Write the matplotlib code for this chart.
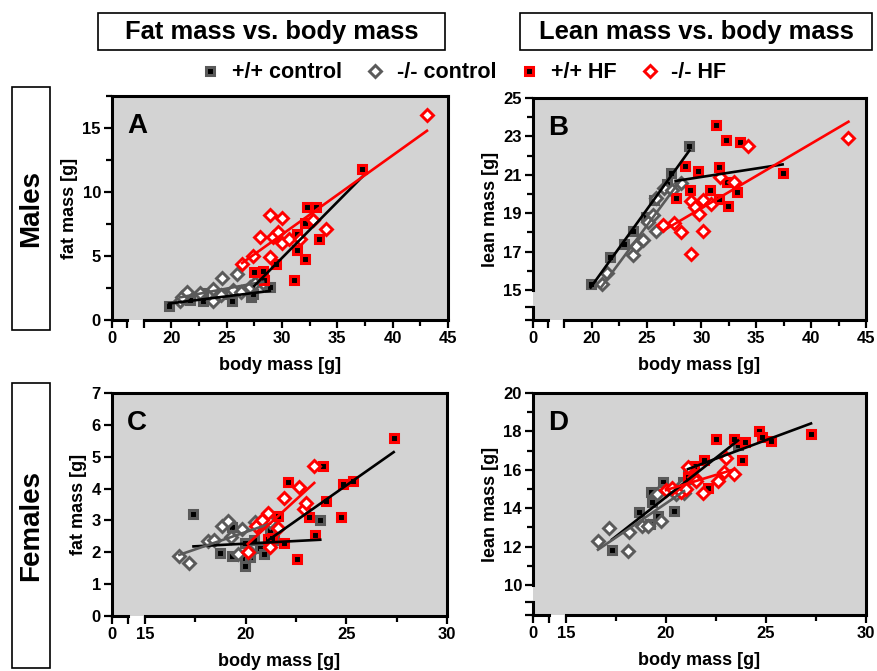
import numpy as np
import matplotlib
matplotlib.use("Agg")
import matplotlib.pyplot as plt
from matplotlib.lines import Line2D
from matplotlib.patches import Rectangle

# ---- data ------------------------------------------------------------------
# Males, fat mass (panel A)
a_wt_ctrl_x = [19.8, 21.7, 22.9, 22.9, 24.6, 25.5, 27.2, 27.4, 28.9]
a_wt_ctrl_y = [1.1, 1.6, 1.5, 2.1, 2.0, 1.5, 1.8, 2.0, 2.6]
a_ko_ctrl_x = [20.8, 21.0, 21.4, 22.6, 23.8, 23.8, 24.5, 24.6, 25.6, 25.9, 26.3, 27.1, 27.6, 28.3]
a_ko_ctrl_y = [1.5, 1.8, 2.2, 2.1, 1.5, 2.4, 1.95, 3.25, 2.35, 3.6, 2.2, 2.6, 2.9, 2.9]
a_wt_hf_x = [27.5, 28.3, 28.4, 29.5, 31.1, 31.4, 31.4, 32.1, 32.1, 32.3, 33.05, 33.35, 37.25]
a_wt_hf_y = [3.75, 3.85, 3.1, 4.4, 3.1, 5.5, 6.75, 4.75, 7.6, 8.8, 8.8, 6.3, 11.8]
a_ko_hf_x = [26.4, 27.35, 28.0, 28.9, 28.9, 29.2, 29.6, 30.0, 30.0, 30.65, 31.6, 32.8, 34.0, 43.1]
a_ko_hf_y = [4.4, 5.0, 6.45, 8.2, 4.95, 6.5, 6.9, 8.0, 6.0, 6.3, 6.3, 7.85, 7.1, 16.0]

# Males, lean mass (panel B)
b_wt_ctrl_x = [19.9, 21.7, 22.9, 23.75, 24.95, 25.7, 26.9, 27.2, 28.9]
b_wt_ctrl_y = [15.3, 16.7, 17.4, 18.1, 18.8, 19.7, 20.5, 21.1, 22.5]
b_ko_ctrl_x = [20.9, 21.35, 23.75, 24.05, 24.65, 25.1, 25.55, 25.85, 25.85, 26.6, 27.3, 28.15]
b_ko_ctrl_y = [15.3, 15.9, 16.8, 17.3, 17.6, 18.55, 18.9, 18.1, 19.8, 20.3, 20.2, 20.55]
b_wt_hf_x = [27.65, 28.5, 29.0, 29.65, 30.75, 31.3, 31.6, 31.6, 32.25, 32.3, 32.45, 33.2, 33.5, 37.4]
b_wt_hf_y = [19.8, 21.45, 20.2, 21.2, 20.2, 23.6, 21.4, 19.75, 22.8, 20.6, 19.4, 20.1, 22.7, 21.1]
b_ko_hf_x = [26.5, 27.5, 28.15, 29.05, 29.05, 29.45, 29.75, 30.1, 30.1, 30.9, 31.65, 32.95, 34.2, 43.4]
b_ko_hf_y = [18.4, 18.5, 18.0, 16.9, 19.65, 19.3, 18.95, 19.7, 18.1, 19.5, 20.9, 20.65, 22.5, 22.9]

# Females, fat mass (panel C)
c_wt_ctrl_x = [17.4, 18.7, 19.3, 19.3, 19.95, 19.95, 19.95, 20.2, 20.4, 20.7, 20.9, 21.2, 21.4, 23.7]
c_wt_ctrl_y = [3.2, 1.97, 2.78, 1.88, 1.78, 1.57, 2.28, 1.85, 2.4, 2.14, 1.95, 2.7, 2.4, 3.0]
c_ko_ctrl_x = [16.7, 17.2, 18.1, 18.4, 18.8, 19.1, 19.25, 19.6, 19.8, 20.2, 20.45, 20.6, 21.2]
c_ko_ctrl_y = [1.88, 1.65, 2.36, 2.4, 2.82, 2.99, 2.47, 1.96, 2.74, 2.0, 2.96, 2.8, 2.95]
c_wt_hf_x = [21.1, 21.3, 21.6, 21.9, 22.1, 22.55, 23.15, 23.45, 23.85, 24.0, 24.75, 24.85, 25.35, 27.35]
c_wt_hf_y = [2.43, 2.45, 3.15, 2.28, 4.22, 1.78, 3.1, 2.55, 4.7, 3.6, 3.1, 4.15, 4.25, 5.6]
c_ko_hf_x = [20.1, 20.5, 20.8, 21.1, 21.2, 21.6, 21.9, 22.65, 22.9, 23.0, 23.4]
c_ko_hf_y = [2.02, 2.83, 3.0, 3.22, 2.18, 2.75, 3.69, 4.05, 3.35, 3.55, 4.72]

# Females, lean mass (panel D)
d_wt_ctrl_x = [17.3, 18.65, 19.2, 19.25, 19.3, 19.6, 19.85, 20.0, 20.4, 20.85, 21.1, 21.2, 23.6]
d_wt_ctrl_y = [11.8, 13.8, 13.2, 14.85, 14.35, 13.6, 15.36, 15.0, 13.88, 15.39, 15.75, 15.5, 17.3]
d_ko_ctrl_x = [16.6, 17.15, 18.1, 18.15, 18.8, 19.1, 19.55, 19.75, 20.3, 20.5, 20.8, 20.9]
d_ko_ctrl_y = [12.3, 12.96, 11.77, 12.75, 13.05, 13.1, 14.75, 13.35, 15.0, 14.73, 15.2, 14.78]
d_wt_hf_x = [21.1, 21.4, 21.9, 22.1, 22.5, 23.4, 23.8, 23.95, 24.65, 24.8, 25.25, 27.25]
d_wt_hf_y = [15.65, 16.2, 16.5, 15.05, 17.62, 17.62, 16.5, 17.45, 18.0, 17.7, 17.5, 17.85]
d_ko_hf_x = [20.0, 20.3, 20.75, 21.0, 21.1, 21.4, 21.5, 21.85, 22.6, 22.9, 23.0, 23.4]
d_ko_hf_y = [14.95, 15.05, 14.87, 15.0, 16.17, 15.65, 15.4, 14.8, 15.4, 15.9, 16.6, 15.8]

group_labels = ["+/+ control", "-/- control", "+/+ HF", "-/- HF"]
header_labels = ["Fat mass vs. body mass", "Lean mass vs. body mass"]
row_labels = ["Males", "Females"]

# ---- styling ---------------------------------------------------------------
plt.rcParams["font.family"] = ["Liberation Sans", "DejaVu Sans"]
plt.rcParams["font.weight"] = "bold"

GRAY = "#5a5a5a"
RED = "#ff0000"
BG = "#d3d3d3"

sq = dict(marker="s", ms=5.4, mew=2.2, mfc="black", ls="none")
dm = dict(marker="D", ms=6.4, mew=2.1, mfc="white", ls="none")
styles = [dict(sq, mec=GRAY), dict(dm, mec=GRAY), dict(sq, mec=RED), dict(dm, mec=RED)]
fit_colors = ["black", GRAY, "black", RED]


def broken(lo_val, hi_val, lo_len, gap):
    # piecewise-linear axis: short stub [0, lo_val], gap, then identity from hi_val
    u_lo = hi_val - gap
    k = lo_len / lo_val

    def fwd(v):
        v = np.asarray(v, float)
        return np.where(v >= hi_val, v,
                        np.where(v <= lo_val, u_lo - (lo_val - v) * k,
                                 u_lo + (v - lo_val) * gap / (hi_val - lo_val)))

    def inv(u):
        u = np.asarray(u, float)
        return np.where(u >= hi_val, u,
                        np.where(u <= u_lo, lo_val - (u_lo - u) / k,
                                 lo_val + (u - u_lo) * (hi_val - lo_val) / gap))
    return fwd, inv


def panel(ax, groups, xcfg, ycfg, ylabel, letter):
    ax.set_facecolor(BG)
    for (x, y), st in zip(groups, styles):
        ax.plot(x, y, **st, zorder=3)
    for (x, y), c in zip(groups, fit_colors):
        m, b = np.polyfit(x, y, 1)
        xs = np.array([min(x), max(x)])
        ax.plot(xs, m * xs + b, color=c, lw=1.9, zorder=4)

    # x axis with a break
    xmax, xhi, xlo_len, xgap, xmaj, xmin_ = xcfg
    ax.set_xscale("function", functions=broken(1, xhi, xlo_len, xgap))
    ax.set_xlim(0, xmax)
    ax.set_xticks([0, 1] + xmaj, ["0", ""] + [f"{v:g}" if v != 17.5 else "" for v in xmaj])
    ax.set_xticks(xmin_, minor=True)
    ax.spines["bottom"].set_visible(False)
    tr = ax.get_xaxis_transform()
    for seg in ([0, 1], [xhi, xmax]):
        ax.plot(seg, [0, 0], transform=tr, color="black", lw=2.2, clip_on=False,
                solid_capstyle="projecting", zorder=5)

    ymax, ybreak, ymaj, ymin_ = ycfg
    if ybreak is not None:
        yhi, ylo_len, ygap = ybreak
        ax.set_yscale("function", functions=broken(1, yhi, ylo_len, ygap))
        ax.set_ylim(0, ymax)
        ax.set_yticks([0, 1] + ymaj, ["", ""] + [f"{v:g}" for v in ymaj])
        ax.spines["left"].set_visible(False)
        tr = ax.get_yaxis_transform()
        for seg in ([0, 1], [yhi, ymax]):
            ax.plot([0, 0], seg, transform=tr, color="black", lw=2.2, clip_on=False,
                    solid_capstyle="projecting", zorder=5)
    else:
        ax.set_ylim(0, ymax)
        ax.set_yticks(ymaj, [f"{v:g}" for v in ymaj])
    ax.set_yticks(ymin_, minor=True)

    for s in ax.spines.values():
        s.set_linewidth(2.2)
    ax.tick_params(which="major", direction="out", length=6, width=1.6, labelsize=12, pad=2)
    ax.tick_params(which="minor", direction="out", length=4, width=1.6)
    ax.set_xlabel("body mass [g]", size=13, weight="bold", labelpad=8)
    ax.set_ylabel(ylabel, size=13, weight="bold", labelpad=3)
    ax.text(0.045, 0.835, letter, transform=ax.transAxes, fontsize=20, weight="bold",
            va="baseline", ha="left", zorder=6)


W, H = 877, 671
fig = plt.figure(figsize=(W / 100, H / 100), dpi=100)


def fax(l, t, r, b):
    return fig.add_axes([l / W, 1 - b / H, (r - l) / W, (b - t) / H])


axA = fax(112, 96, 448, 320)
axB = fax(533, 98, 866, 320)
axC = fax(112, 393, 447, 616)
axD = fax(533, 393, 866, 615)

male_x = (45, 17.5, 1.4, 1.45, [17.5, 20, 25, 30, 35, 40, 45], [22.5, 27.5, 32.5, 37.5, 42.5])
fem_x = (30, 15, 0.8, 0.85, [15, 20, 25, 30], [17.5, 22.5, 27.5])

panel(axA, [(a_wt_ctrl_x, a_wt_ctrl_y), (a_ko_ctrl_x, a_ko_ctrl_y),
            (a_wt_hf_x, a_wt_hf_y), (a_ko_hf_x, a_ko_hf_y)],
      male_x, (17.5, None, [0, 5, 10, 15], [2.5, 7.5, 12.5, 17.5]), "fat mass [g]", "A")
panel(axB, [(b_wt_ctrl_x, b_wt_ctrl_y), (b_ko_ctrl_x, b_ko_ctrl_y),
            (b_wt_hf_x, b_wt_hf_y), (b_ko_hf_x, b_ko_hf_y)],
      male_x, (25, (15, 0.69, 0.87), [15, 17, 19, 21, 23, 25], [16, 18, 20, 22, 24]),
      "lean mass [g]", "B")
panel(axC, [(c_wt_ctrl_x, c_wt_ctrl_y), (c_ko_ctrl_x, c_ko_ctrl_y),
            (c_wt_hf_x, c_wt_hf_y), (c_ko_hf_x, c_ko_hf_y)],
      fem_x, (7, None, [0, 1, 2, 3, 4, 5, 6, 7], []), "fat mass [g]", "C")
panel(axD, [(d_wt_ctrl_x, d_wt_ctrl_y), (d_ko_ctrl_x, d_ko_ctrl_y),
            (d_wt_hf_x, d_wt_hf_y), (d_ko_hf_x, d_ko_hf_y)],
      fem_x, (20, (10, 0.69, 0.87), [10, 12, 14, 16, 18, 20], [11, 13, 15, 17, 19]),
      "lean mass [g]", "D")

# header boxes
for (l, t, r, b), txt in zip([(98, 13, 445, 50), (520, 13, 872, 50)], header_labels):
    fig.patches.append(Rectangle((l / W, 1 - b / H), (r - l) / W, (b - t) / H,
                                 transform=fig.transFigure, fill=False, lw=1.2, ec="black"))
    fig.text((l + r) / 2 / W, 1 - (t + b) / 2 / H, txt, ha="center", va="center",
             size=18.4, weight="bold")

# row label boxes
for (l, t, r, b), txt in zip([(12, 87, 50, 330), (12, 383, 50, 668)], row_labels):
    fig.patches.append(Rectangle((l / W, 1 - b / H), (r - l) / W, (b - t) / H,
                                 transform=fig.transFigure, fill=False, lw=1.2, ec="black"))
    fig.text((l + r) / 2 / W, 1 - (t + b) / 2 / H, txt, ha="center", va="center",
             rotation=90, size=20, weight="bold")

handles = [Line2D([], [], **st) for st in styles]
fig.legend(handles, group_labels, ncol=4, loc="center", bbox_to_anchor=(463 / W, 1 - 73 / H),
           frameon=False, handlelength=1.0, handletextpad=0.5, columnspacing=1.05,
           prop=dict(size=15.5, weight="bold"))

fig.savefig("out.png", dpi=100)
